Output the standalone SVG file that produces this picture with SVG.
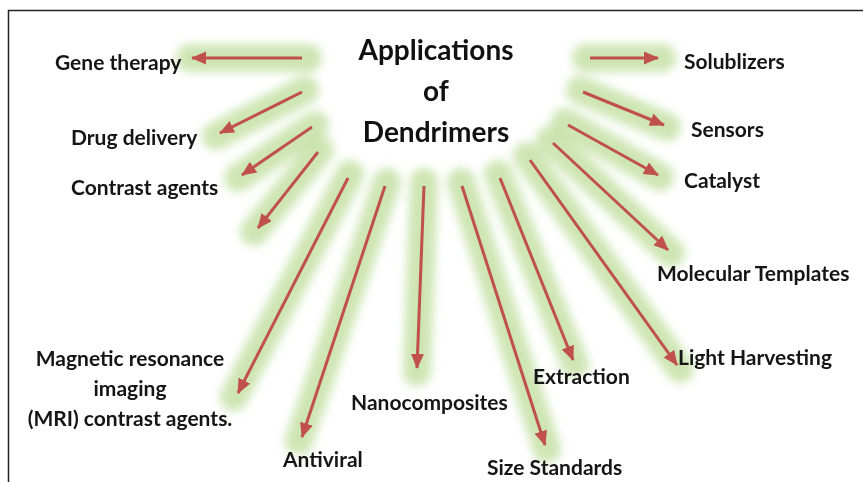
<svg xmlns="http://www.w3.org/2000/svg" width="863" height="482" viewBox="0 0 863 482">
  <style>
    .lbl { font-family: "Lato", "Open Sans", "Liberation Sans", sans-serif; font-size: 21px; font-weight: 700; fill: #151515; }
    .title { font-family: "Lato", "Open Sans", "Liberation Sans", sans-serif; font-size: 28px; font-weight: 700; fill: #111; text-anchor: middle; }
    .glow { stroke: #c2dea0; stroke-width: 28; stroke-linecap: round; fill: none; opacity: 0.8; }
    .arrow { stroke: #c0504d; stroke-width: 3; fill: none; marker-end: url(#head); }
  </style>
  <defs>
    <filter id="soft" x="-30%" y="-30%" width="160%" height="160%">
      <feGaussianBlur stdDeviation="5"/>
    </filter>
    <marker id="head" markerUnits="userSpaceOnUse" markerWidth="17" markerHeight="14" refX="14" refY="6.5" orient="auto">
      <path d="M0,0 L15,6.5 L0,13 z" fill="#c0504d"/>
    </marker>
  </defs>

  <rect width="863" height="482" fill="#ffffff"/>
  <!-- frame: top and left rules -->
  <path d="M8.5,482 V10.5 H863" fill="none" stroke="#222" stroke-width="1.5"/>

  <!-- soft halos behind the arrows -->
  <g id="halos" filter="url(#soft)">
    <line class="glow" x1="308" y1="58" x2="190" y2="58"/>
    <line class="glow" x1="305" y1="90" x2="216" y2="136"/>
    <line class="glow" x1="315" y1="125" x2="238" y2="178"/>
    <line class="glow" x1="320" y1="150" x2="254" y2="232"/>
    <line class="glow" x1="350" y1="174" x2="234" y2="397"/>
    <line class="glow" x1="387" y1="182" x2="299" y2="441"/>
    <line class="glow" x1="424" y1="182" x2="417" y2="372"/>
    <line class="glow" x1="461" y1="182" x2="547" y2="449"/>
    <line class="glow" x1="498" y1="174" x2="575" y2="364"/>
    <line class="glow" x1="527" y1="156" x2="680" y2="369"/>
    <line class="glow" x1="550" y1="140" x2="671" y2="253"/>
    <line class="glow" x1="565" y1="122" x2="660" y2="177"/>
    <line class="glow" x1="580" y1="90" x2="667" y2="127"/>
    <line class="glow" x1="586" y1="58" x2="662" y2="58"/>
  </g>

  <!-- connectors -->
  <g id="connectors">
    <line class="arrow" x1="302" y1="58" x2="192" y2="58"/>
    <line class="arrow" x1="302" y1="92" x2="220" y2="133"/>
    <line class="arrow" x1="312" y1="127" x2="242" y2="175"/>
    <line class="arrow" x1="318" y1="152" x2="258" y2="228"/>
    <line class="arrow" x1="348" y1="178" x2="238" y2="393"/>
    <line class="arrow" x1="385" y1="186" x2="302" y2="437"/>
    <line class="arrow" x1="424" y1="186" x2="417" y2="368"/>
    <line class="arrow" x1="462" y1="186" x2="545" y2="445"/>
    <line class="arrow" x1="500" y1="178" x2="573" y2="360"/>
    <line class="arrow" x1="530" y1="160" x2="677" y2="365"/>
    <line class="arrow" x1="553" y1="143" x2="668" y2="250"/>
    <line class="arrow" x1="568" y1="125" x2="658" y2="175"/>
    <line class="arrow" x1="583" y1="92" x2="664" y2="125"/>
    <line class="arrow" x1="590" y1="58" x2="658" y2="58"/>
  </g>

  <g id="title">
    <text class="title" x="436" y="60">Applications</text>
    <text class="title" x="436" y="101">of</text>
    <text class="title" x="436" y="142">Dendrimers</text>
  </g>

  <g id="gene-therapy"><text class="lbl" x="55" y="70">Gene therapy</text></g>
  <g id="drug-delivery"><text class="lbl" x="71" y="145">Drug delivery</text></g>
  <g id="contrast-agents"><text class="lbl" x="71" y="195">Contrast agents</text></g>
  <g id="mri">
    <text class="lbl" x="130" y="366" text-anchor="middle">Magnetic resonance</text>
    <text class="lbl" x="130" y="396" text-anchor="middle">imaging</text>
    <text class="lbl" x="130" y="426" text-anchor="middle">(MRI) contrast agents.</text>
  </g>
  <g id="antiviral"><text class="lbl" x="283" y="467">Antiviral</text></g>
  <g id="nanocomposites"><text class="lbl" x="351" y="410">Nanocomposites</text></g>
  <g id="size-standards"><text class="lbl" x="487" y="475">Size Standards</text></g>
  <g id="extraction"><text class="lbl" x="533" y="384">Extraction</text></g>
  <g id="light-harvesting"><text class="lbl" x="678" y="365">Light Harvesting</text></g>
  <g id="molecular-templates"><text class="lbl" x="657" y="281">Molecular Templates</text></g>
  <g id="catalyst"><text class="lbl" x="684" y="188">Catalyst</text></g>
  <g id="sensors"><text class="lbl" x="691" y="137">Sensors</text></g>
  <g id="solublizers"><text class="lbl" x="684" y="69">Solublizers</text></g>
</svg>
